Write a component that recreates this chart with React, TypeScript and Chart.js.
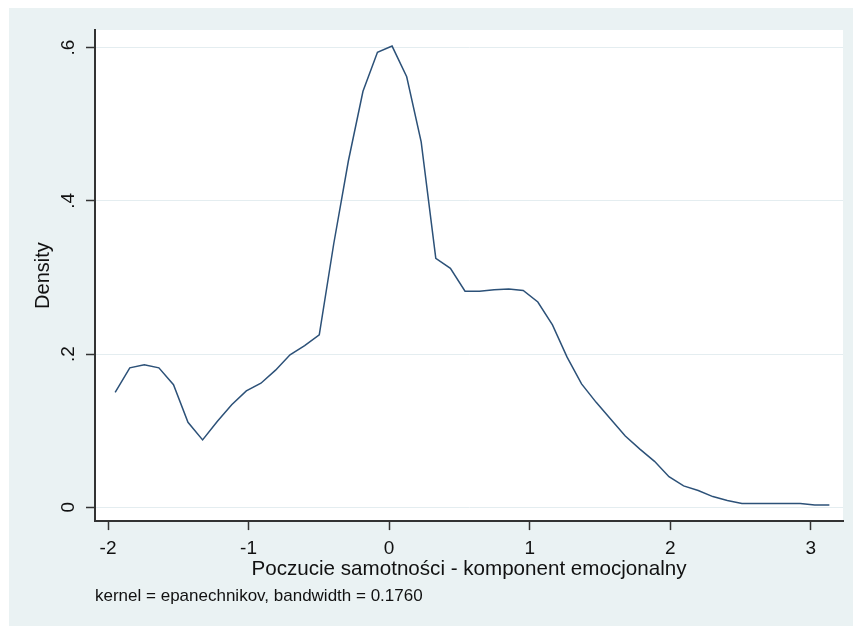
import React, { useEffect, useRef } from "react";
import { Chart, registerables } from "chart.js";

Chart.register(...registerables);

// Kernel density estimate, 50 evaluation points
const xValues = [
  -1.949, -1.845, -1.742, -1.638, -1.534, -1.431, -1.327, -1.223, -1.12, -1.016,
  -0.912, -0.808, -0.705, -0.601, -0.497, -0.394, -0.29, -0.186, -0.083, 0.021,
  0.125, 0.228, 0.332, 0.436, 0.54, 0.643, 0.747, 0.851, 0.954, 1.058,
  1.162, 1.266, 1.369, 1.473, 1.577, 1.68, 1.784, 1.888, 1.991, 2.095,
  2.199, 2.303, 2.406, 2.51, 2.614, 2.717, 2.821, 2.925, 3.028, 3.132,
];
const densityValues = [
  0.15, 0.182, 0.186, 0.182, 0.16, 0.111, 0.088, 0.112, 0.134, 0.152,
  0.162, 0.179, 0.199, 0.211, 0.225, 0.344, 0.452, 0.543, 0.594, 0.602,
  0.562, 0.477, 0.325, 0.312, 0.282, 0.282, 0.284, 0.285, 0.283, 0.268,
  0.238, 0.196, 0.161, 0.137, 0.115, 0.093, 0.076, 0.06, 0.04, 0.028,
  0.022, 0.014, 0.009, 0.005, 0.005, 0.005, 0.005, 0.005, 0.003, 0.003,
];

const xTickValues = [-2, -1, 0, 1, 2, 3];
const xTickLabels = ["-2", "-1", "0", "1", "2", "3"];
const yTickValues = [0, 0.2, 0.4, 0.6];
const yTickLabels = ["0", ".2", ".4", ".6"];

const xTitle = "Poczucie samotności - komponent emocjonalny";
const yTitle = "Density";
const noteText = "kernel = epanechnikov, bandwidth = 0.1760";

const FONT = "'Liberation Sans', Arial, sans-serif";

const bgPlugin = {
  id: "stataBg",
  beforeDraw(chart: any) {
    const { ctx, chartArea, width, height } = chart;
    ctx.save();
    ctx.fillStyle = "#eaf2f3";
    ctx.fillRect(0, 0, width, height);
    ctx.fillStyle = "#ffffff";
    ctx.fillRect(
      chartArea.left,
      chartArea.top,
      chartArea.right - chartArea.left,
      chartArea.bottom - chartArea.top
    );
    ctx.restore();
  },
};

export default function App() {
  const canvasRef = useRef<HTMLCanvasElement | null>(null);

  useEffect(() => {
    if (!canvasRef.current) return;
    const chart = new Chart(canvasRef.current, {
      type: "line",
      data: {
        datasets: [
          {
            data: xValues.map((x, i) => ({ x, y: densityValues[i] })),
            borderColor: "#2c5178",
            borderWidth: 1.5,
            pointRadius: 0,
            tension: 0,
            fill: false,
          },
        ],
      },
      options: {
        animation: false,
        responsive: true,
        maintainAspectRatio: false,
        layout: { padding: { top: 22, right: 10, left: 0, bottom: 0 } },
        plugins: {
          legend: { display: false },
          tooltip: { enabled: false },
          title: {
            display: true,
            text: noteText,
            position: "bottom",
            align: "start",
            fullSize: false,
            color: "#111",
            font: { family: FONT, size: 17, weight: "normal", lineHeight: 1.2 },
            padding: { top: 0, bottom: 19.2 },
          },
        },
        scales: {
          x: {
            type: "linear",
            min: -2.0925,
            max: 3.229,
            afterBuildTicks: (scale: any) => {
              scale.ticks = xTickValues.map((v) => ({ value: v }));
            },
            afterFit: (scale: any) => {
              scale.height = 65.3;
            },
            ticks: {
              color: "#111",
              font: { family: FONT, size: 19, lineHeight: 1.2 },
              padding: 7,
              maxRotation: 0,
              minRotation: 0,
              callback: (_v: any, i: number) => xTickLabels[i],
            },
            grid: {
              drawOnChartArea: false,
              drawTicks: true,
              tickLength: 9,
              tickColor: "#333",
              tickWidth: 1.5,
            },
            border: { display: true, color: "#333", width: 2 },
            title: {
              display: true,
              text: xTitle,
              color: "#111",
              font: { family: FONT, size: 20.6, lineHeight: 1.2 },
              padding: { top: 0, bottom: 5 },
            },
          },
          y: {
            type: "linear",
            min: -0.018,
            max: 0.623,
            afterBuildTicks: (scale: any) => {
              scale.ticks = yTickValues.map((v) => ({ value: v }));
            },
            afterFit: (scale: any) => {
              scale.width = 86;
            },
            ticks: {
              color: "#111",
              font: { family: FONT, size: 19, lineHeight: 1.2 },
              padding: 9,
              minRotation: 90,
              maxRotation: 90,
              crossAlign: "center",
              callback: (_v: any, i: number) => yTickLabels[i],
            },
            grid: {
              drawOnChartArea: true,
              color: "#e4edf0",
              lineWidth: 1,
              drawTicks: true,
              tickLength: 9,
              tickColor: "#333",
              tickWidth: 1.5,
            },
            border: { display: true, color: "#333", width: 2 },
            title: {
              display: true,
              text: yTitle,
              color: "#111",
              font: { family: FONT, size: 20, lineHeight: 1.2 },
              padding: { top: 22.5, bottom: 0 },
            },
          },
        },
      },
      plugins: [bgPlugin],
    } as any);
    return () => chart.destroy();
  }, []);

  return (
    <div
      style={{
        position: "absolute",
        left: 9,
        top: 8,
        width: 844,
        height: 618,
      }}
    >
      <canvas ref={canvasRef} />
    </div>
  );
}
